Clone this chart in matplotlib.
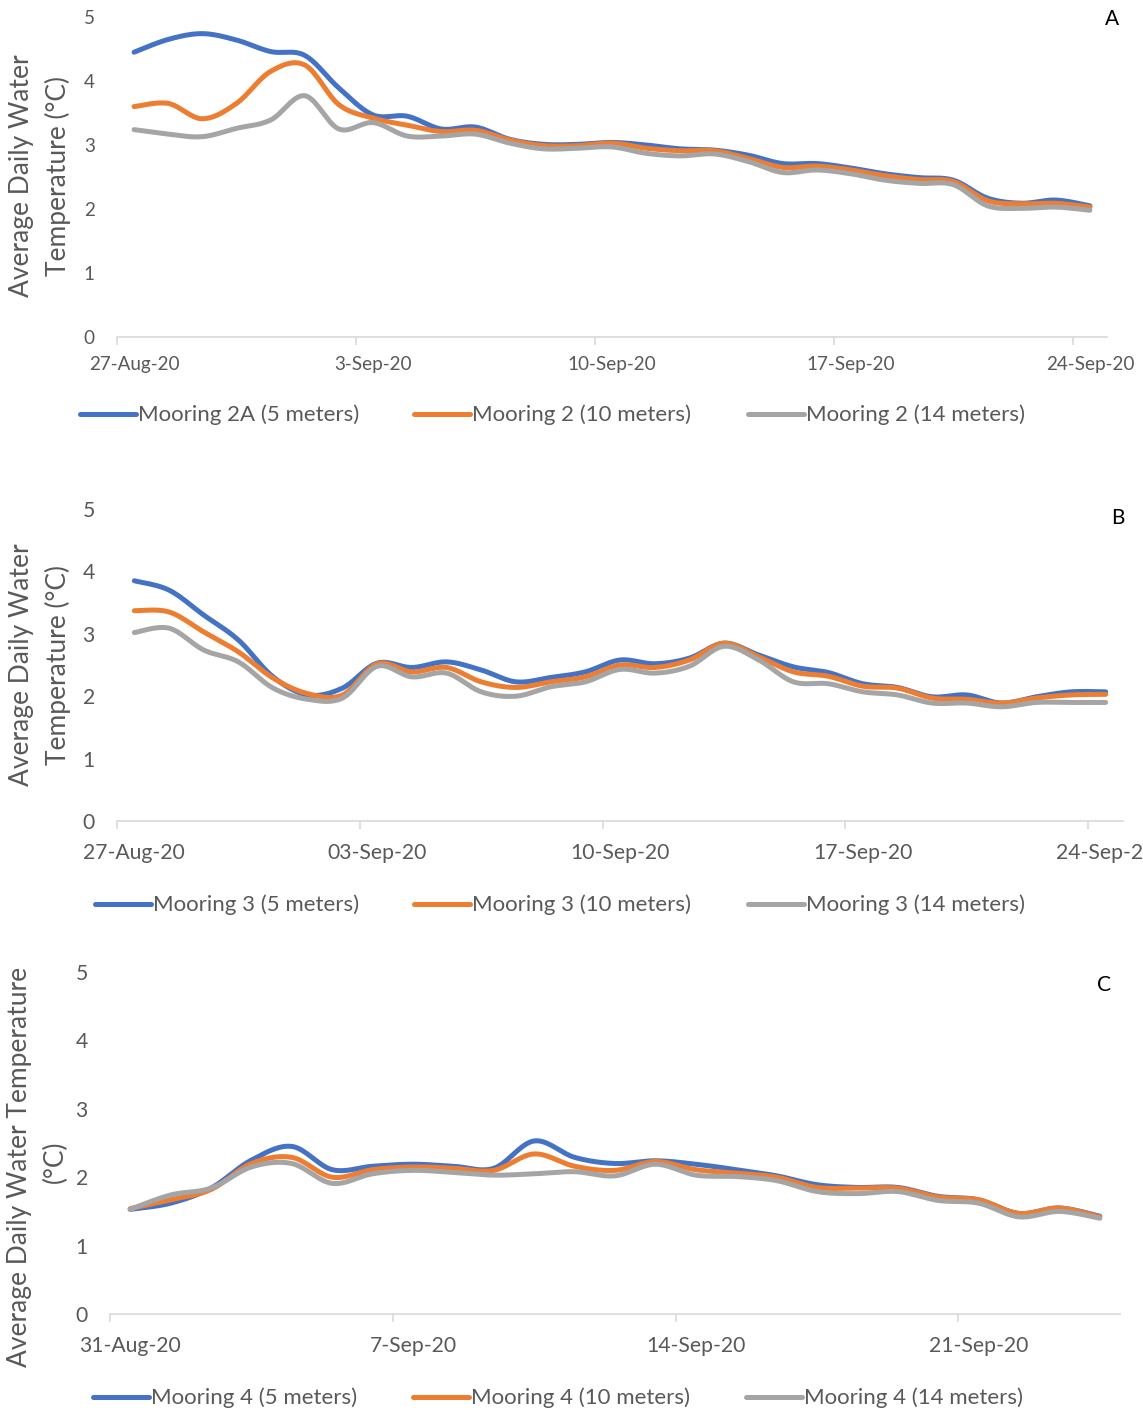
import numpy as np
import matplotlib
matplotlib.use("Agg")
import matplotlib.pyplot as plt
from matplotlib.lines import Line2D
from matplotlib.legend import Legend

plt.rcParams['font.family'] = ['Lato', 'DejaVu Sans']

# ---- data (daily means) ----
dates_a = ['27-Aug-20', '3-Sep-20', '10-Sep-20', '17-Sep-20', '24-Sep-20']
m2a_5 = [4.45, 4.65, 4.74, 4.64, 4.46, 4.40, 3.89, 3.47, 3.45, 3.25, 3.28, 3.09, 3.01, 3.01, 3.04,
         3.00, 2.94, 2.92, 2.84, 2.71, 2.71, 2.64, 2.55, 2.49, 2.45, 2.17, 2.09, 2.14, 2.05]
m2_10 = [3.60, 3.65, 3.41, 3.65, 4.15, 4.25, 3.63, 3.42, 3.31, 3.21, 3.23, 3.08, 2.99, 2.99, 3.03,
         2.95, 2.91, 2.91, 2.79, 2.65, 2.67, 2.61, 2.52, 2.46, 2.43, 2.13, 2.08, 2.09, 2.03]
m2_14 = [3.24, 3.17, 3.13, 3.26, 3.39, 3.77, 3.25, 3.35, 3.14, 3.14, 3.17, 3.03, 2.94, 2.95, 2.97,
         2.87, 2.83, 2.86, 2.74, 2.57, 2.61, 2.55, 2.45, 2.40, 2.38, 2.05, 2.01, 2.03, 1.98]

dates_b = ['27-Aug-20', '03-Sep-20', '10-Sep-20', '17-Sep-20', '24-Sep-20']
m3_5 = [3.85, 3.70, 3.30, 2.90, 2.31, 2.02, 2.13, 2.53, 2.46, 2.55, 2.42, 2.23, 2.30, 2.39, 2.58,
        2.52, 2.61, 2.85, 2.66, 2.47, 2.38, 2.20, 2.14, 1.99, 2.02, 1.89, 1.99, 2.07, 2.07]
m3_10 = [3.37, 3.35, 3.03, 2.71, 2.29, 2.04, 2.02, 2.52, 2.39, 2.46, 2.23, 2.14, 2.23, 2.31, 2.50,
         2.46, 2.58, 2.85, 2.63, 2.39, 2.32, 2.16, 2.13, 1.97, 1.95, 1.89, 1.97, 2.02, 2.03]
m3_14 = [3.02, 3.09, 2.74, 2.55, 2.13, 1.95, 1.97, 2.48, 2.31, 2.37, 2.07, 2.00, 2.15, 2.23, 2.43,
         2.37, 2.48, 2.80, 2.58, 2.23, 2.20, 2.07, 2.02, 1.89, 1.89, 1.83, 1.90, 1.90, 1.90]

dates_c = ['31-Aug-20', '7-Sep-20', '14-Sep-20', '21-Sep-20']
m4_5 = [1.53, 1.62, 1.84, 2.25, 2.45, 2.11, 2.16, 2.19, 2.16, 2.13, 2.53, 2.29, 2.20, 2.24, 2.19,
        2.11, 2.02, 1.89, 1.85, 1.85, 1.72, 1.67, 1.47, 1.55, 1.43]
m4_10 = [1.54, 1.67, 1.82, 2.20, 2.29, 2.00, 2.11, 2.15, 2.13, 2.10, 2.34, 2.16, 2.10, 2.23, 2.11,
         2.06, 2.00, 1.85, 1.84, 1.84, 1.71, 1.67, 1.47, 1.55, 1.42]
m4_14 = [1.53, 1.74, 1.84, 2.15, 2.20, 1.91, 2.05, 2.10, 2.07, 2.03, 2.05, 2.08, 2.02, 2.19, 2.03,
         2.01, 1.95, 1.79, 1.76, 1.79, 1.66, 1.62, 1.42, 1.50, 1.40]

COLORS = ['#4472C4', '#ED7D31', '#A5A5A5']
GREY_TXT = '#595959'
W, H = 1143, 1414


def smooth(y, n=20):
    """Excel-style smoothed line (Catmull-Rom bezier through the points)."""
    y = np.asarray(y, float)
    x = np.arange(len(y), dtype=float)
    p = np.column_stack([x, y])
    p = np.vstack([p[0], p, p[-1]])
    t = np.linspace(0, 1, n)[:, None]
    out = []
    for i in range(1, len(p) - 2):
        p0, p1, p2, p3 = p[i - 1], p[i], p[i + 1], p[i + 2]
        c1 = p1 + (p2 - p0) / 6
        c2 = p2 - (p3 - p1) / 6
        seg = ((1 - t) ** 3) * p1 + 3 * ((1 - t) ** 2) * t * c1 + 3 * (1 - t) * t ** 2 * c2 + t ** 3 * p2
        out.append(seg if i == 1 else seg[1:])
    out = np.vstack(out)
    return out[:, 0], out[:, 1]


def panel(rect, series, dates, step, letter, letter_xy, tick_fs, xlab_pad):
    l, b, r, t = rect
    ax = fig.add_axes([l / W, 1 - b / H, (r - l) / W, (b - t) / H])
    n = len(series[0])
    for ys, c in zip(series, COLORS):
        sx, sy = smooth(ys)
        ax.plot(sx, sy, color=c, lw=3.6, solid_capstyle='round')
    ax.set_xlim(-0.5, n - 0.5)
    ax.set_ylim(0, 5)
    for s in ['top', 'right', 'left']:
        ax.spines[s].set_visible(False)
    ax.spines['bottom'].set_color('#D9D9D9')
    ax.spines['bottom'].set_linewidth(1.2)
    # boundary tick marks, labels at day centres
    ax.set_xticks(np.arange(-0.5, n, step))
    ax.set_xticklabels([])
    ax.tick_params(axis='x', which='major', length=6, width=1.2, color='#D9D9D9', direction='out')
    ax.set_xticks(np.arange(0, len(dates) * step, step), minor=True)
    ax.set_xticklabels(dates, minor=True)
    ax.tick_params(axis='x', which='minor', length=0, pad=xlab_pad, labelsize=tick_fs, labelcolor=GREY_TXT)
    ax.set_yticks(range(6))
    ax.tick_params(axis='y', length=0, pad=16, labelsize=tick_fs, labelcolor=GREY_TXT)
    fig.text(letter_xy[0] / W, 1 - letter_xy[1] / H, letter, fontsize=15, color='black',
             ha='center', va='center')
    return ax


def legend_row(ax, labels, xs, y):
    for lab, c, x in zip(labels, COLORS, xs):
        h = Line2D([], [], color=c, lw=3.6, solid_capstyle='round')
        lg = Legend(ax, [h], [lab], loc='center left', bbox_to_anchor=(x / W, 1 - y / H),
                    bbox_transform=fig.transFigure, frameon=False, borderpad=0,
                    borderaxespad=0, handlelength=2.5, handletextpad=0.12,
                    fontsize=16, labelcolor=GREY_TXT)
        ax.add_artist(lg)


def ylabel_lines(lines, xs, yc):
    for txt, x in zip(lines, xs):
        fig.text(x / W, 1 - yc / H, txt, rotation=90, fontsize=19, color=GREY_TXT,
                 ha='center', va='center')


fig = plt.figure(figsize=(W / 100, H / 100), dpi=100)

ax_a = panel((117, 337, 1107, 17), [m2a_5, m2_10, m2_14], dates_a, 7, 'A', (1112, 19), 13.6, 14)
legend_row(ax_a, ['Mooring 2A (5 meters)', 'Mooring 2 (10 meters)', 'Mooring 2 (14 meters)'],
           [80, 414, 748], 415)
ylabel_lines(['Average Daily Water', 'Temperature (°C)'], [22, 58], 176)

ax_b = panel((117, 821, 1123, 509), [m3_5, m3_10, m3_14], dates_b, 7, 'B', (1118, 518), 15.2, 16)
legend_row(ax_b, ['Mooring 3 (5 meters)', 'Mooring 3 (10 meters)', 'Mooring 3 (14 meters)'],
           [95, 414, 748], 905)
ylabel_lines(['Average Daily Water', 'Temperature (°C)'], [22, 58], 665)

ax_c = panel((110, 1314, 1120, 972), [m4_5, m4_10, m4_14], dates_c, 7, 'C', (1104, 985), 15.2, 16)
legend_row(ax_c, ['Mooring 4 (5 meters)', 'Mooring 4 (10 meters)', 'Mooring 4 (14 meters)'],
           [93, 413, 746], 1398)
ylabel_lines(['Average Daily Water Temperature'], [20], 1167)
ylabel_lines(['(°C)'], [55], 1162)

fig.savefig('out.png', dpi=100)
